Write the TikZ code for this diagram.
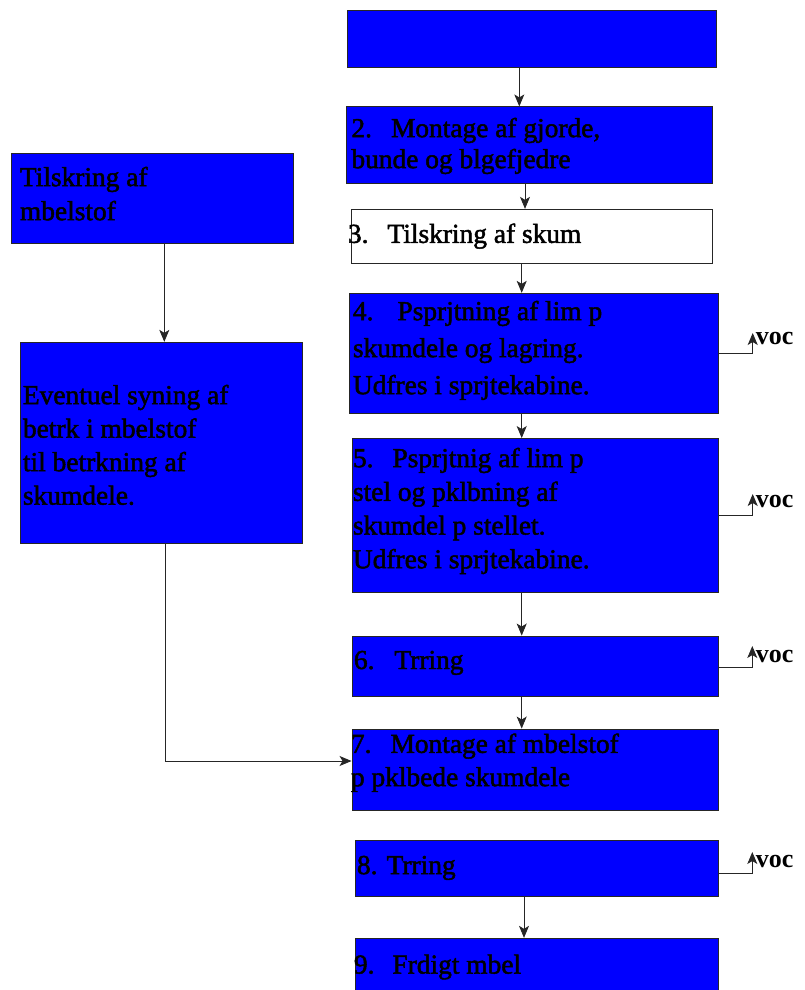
\documentclass[tikz,border=0pt]{standalone}
\usepackage{fontspec}
\setmainfont{Liberation Serif}
\newfontfamily\boxfont{Liberation Serif}[FakeBold=1.8]
\usetikzlibrary{arrows.meta, calc}
\tikzset{
>={Stealth[length=12pt,width=10pt,inset=3pt]},
hv path/.style={to path={-| (\tikztotarget)}},
vh path/.style={to path={|- (\tikztotarget)}},
box/.style={%
    rectangle,
    inner sep=0pt,
    draw=black!85,
    fill=blue,
},
whitebox/.style={%
    box, fill=white
},
boxtext/.style={%
    anchor=north west,
    inner sep=0pt,
    align=left,
    font=\boxfont\fontsize{27.4}{#1}\selectfont
},
boxtext/.default=33.5,
voc/.style={%
    anchor=base west,inner sep=0pt,font=\bfseries\fontsize{26}{26}\selectfont
},
}

\begin{document}
\begin{tikzpicture}[x=1pt, y=-1pt, line width=0.9pt, black!85, text=black]
\useasboundingbox (0,0) rectangle (804,990);

% right column
\node[box, minimum width=369pt, minimum height=57pt] (b1) at (532,39.2) {};
\node[box, minimum width=366pt, minimum height=77pt] (b2) at (529.5,145.4) {};
\node[whitebox, minimum width=361pt, minimum height=54pt] (b3) at (532,236.3) {};
\node[box, minimum width=369pt, minimum height=120pt] (b4) at (533.6,353.3) {};
\node[box, minimum width=366pt, minimum height=154pt] (b5) at (535,515.5) {};
\node[box, minimum width=366pt, minimum height=60pt] (b6) at (535,666) {};
\node[box, minimum width=366pt, minimum height=81pt] (b7) at (535,769.5) {};
\node[box, minimum width=363pt, minimum height=56pt] (b8) at (536.5,868) {};
\node[box, minimum width=363pt, minimum height=64pt] (b9) at (536.5,970.3) {};

% left column
\node[box, minimum width=282pt, minimum height=90pt] (bA) at (152.2,198.3) {};
\node[box, minimum width=282pt, minimum height=201pt] (bB) at (161.7,442.8) {};

% texts
\node[boxtext=31] (t2) at (351,117.4) {2.\hspace*{19pt}Montage af gjorde,\\bunde og blgefjedre};
\node[boxtext] (t3) at (347.5,223.1) {3.\hspace*{19pt}Tilskring af skum};
\node[boxtext=37] (t4) at (352.5,300.4) {4.\hspace*{24pt}Psprjtning af lim p\\skumdele og lagring.\\Udfres i sprjtekabine.};
\node[boxtext=33.7] (t5) at (352.5,447.4) {5.\hspace*{19pt}Psprjtnig af lim p\\stel og pklbning af\\skumdel p stellet.\\Udfres i sprjtekabine.};
\node[boxtext] (t6) at (353.5,650.4) {6.\hspace*{20pt}Trring};
\node[boxtext=33.3] (t7) at (350.5,733.1) {7.\hspace*{19pt}Montage af mbelstof\\p pklbede skumdele};
\node[boxtext] (t8) at (356.5,855.4) {8. Trring};
\node[boxtext] (t9) at (353.5,954.1) {9.\hspace*{18pt}Frdigt mbel};
\node[boxtext=34] (tA) at (19.5,166.4) {Tilskring af\\mbelstof};
\node[boxtext] (tB) at (22.5,384.4) {Eventuel syning af\\betrk i mbelstof\\til betrkning af\\skumdele.};

% voc outlets
\node[voc] (v4) at (755.5,344) {voc};
\node[voc] (v5) at (755.5,507) {voc};
\node[voc] (v6) at (755.5,662.7) {voc};
\node[voc] (v8) at (755.5,867) {voc};
\coordinate (v4tip) at (752.7,333);
\coordinate (v5tip) at (752.7,494);
\coordinate (v6tip) at (752.3,646);
\coordinate (v8tip) at (752.3,852);

% flow
\draw[->] (b1.south -| 519.3,0) -- (b2.north -| 519.3,0);
\draw[->] (b2.south -| 525,0) -- (b3.north -| 525,0);
\draw[->] (b3.south -| 521.7,0) -- (b4.north -| 521.7,0);
\draw[->] (b4.south -| 521.7,0) -- (b5.north -| 521.7,0);
\draw[->] (b5.south -| 521.7,0) -- (b6.north -| 521.7,0);
\draw[->] (b6.south -| 521.7,0) -- (b7.north -| 521.7,0);
\draw[->] (b8.south -| 524,0) -- (b9.north -| 524,0);
\draw[->] (bA.south -| 164.3,0) -- (bB.north -| 164.3,0);
\draw[->] (bB.south -| 165.7,0) to[vh path] (b7.west |- 0,761);

\draw[->] (b4.east) to[hv path] (v4tip);
\draw[->] (b5.east) to[hv path] (v5tip);
\draw[->] (b6.east |- 0,667.7) to[hv path] (v6tip);
\draw[->] (b8.east |- 0,873) to[hv path] (v8tip);

\end{tikzpicture}
\end{document}
